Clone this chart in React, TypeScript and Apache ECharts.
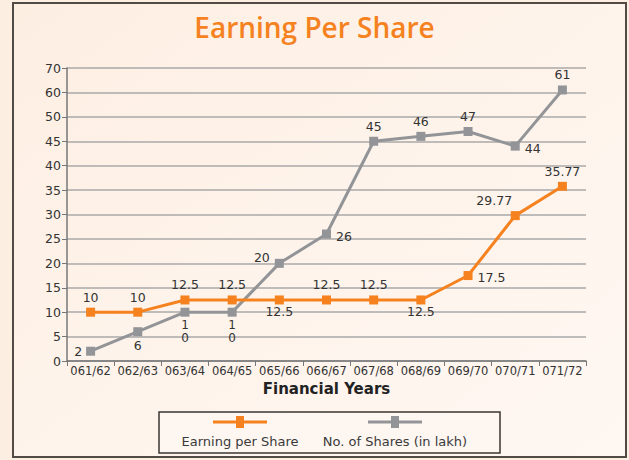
import React, { useEffect, useRef } from "react";
import * as echarts from "echarts";

const categories = ["061/62", "062/63", "063/64", "064/65", "065/66", "066/67", "067/68", "068/69", "069/70", "070/71", "071/72"];
const epsValues = [10, 10, 12.5, 12.5, 12.5, 12.5, 12.5, 12.5, 17.5, 29.77, 35.77];
const shareValues = [2, 6, 10, 10, 20, 26, 45, 46, 47, 44, 61];
const epsLabelPos = ["top", "top", "top", "top", "bottom", "top", "top", "bottom", "right", "topleft", "top"];
const shareLabelPos = ["left", "bottom", "bottom", "bottom", "upleft", "right", "top", "top", "top", "right", "top"];
const seriesNames = ["Earning per Share", "No. of Shares (in lakh)"];
const seriesColors = ["#F5821F", "#929497"];

// The original axis is compressed above 50 (50, 60, 70 on equally spaced lines)
const toAxis = (v: number) => (v <= 50 ? v : 50 + (v - 50) / 2);
const fromAxis = (v: number) => (v <= 50 ? v : 50 + (v - 50) * 2);

const labelFont = { fontFamily: "DejaVu Sans", fontSize: 12.5, color: "#333" };

function itemLabel(pos: string, raw: number, isShare: boolean) {
  const base: any = { show: true, ...labelFont, formatter: () => String(raw) };
  if (pos === "topleft") return { ...base, position: "top", offset: [-21, 1] };
  if (pos === "upleft") return { ...base, position: "left", offset: [0, -6] };
  if (pos === "right") return { ...base, position: "right", offset: [0, 2] };
  if (pos === "bottom") {
    if (isShare && raw === 10)
      return { ...base, fontSize: 12, position: "bottom", distance: 2, lineHeight: 13, formatter: () => "1\n0" };
    return { ...base, position: "bottom", distance: isShare ? 3 : 1 };
  }
  return { ...base, position: pos, distance: 4 };
}

export default function App() {
  const ref = useRef<HTMLDivElement>(null);
  useEffect(() => {
    document.body.style.margin = "0";
    const chart = echarts.init(ref.current!, null, { renderer: "svg" });
    const legendCenters = [240, 395];
    const legendGraphics: any[] = [];
    seriesNames.forEach((n, i) => {
      const cx = legendCenters[i];
      legendGraphics.push(
        { type: "line", shape: { x1: cx - 27, y1: 422, x2: cx + 27, y2: 422 }, style: { stroke: seriesColors[i], lineWidth: 3 }, z: 10 },
        { type: "rect", shape: { x: cx - 4, y: 416, width: 8, height: 12 }, style: { fill: seriesColors[i] }, z: 10 },
        { type: "text", x: cx, y: 441, style: { text: n, fill: "#3a3a3a", font: "13px 'DejaVu Sans'", align: "center", verticalAlign: "middle" }, z: 10 }
      );
    });
    chart.setOption({
      animation: false,
      backgroundColor: "#FDEEE2",
      title: {
        text: "Earning Per Share",
        left: "center",
        top: 8,
        textStyle: { color: "#F5821F", fontFamily: "Open Sans", fontSize: 28, fontWeight: 600 },
      },
      graphic: [
        {
          type: "rect",
          z: -100,
          shape: { x: 13, y: 3, width: 613, height: 454 },
          style: {
            fill: new echarts.graphic.LinearGradient(0, 0, 1, 1, [
              { offset: 0, color: "#FDEEE2" },
              { offset: 0.45, color: "#FEF3EA" },
              { offset: 1, color: "#FEF7F2" },
            ]),
            stroke: "#524A44",
            lineWidth: 2,
          },
        },
        {
          type: "rect",
          z: 5,
          shape: { x: 159, y: 412, width: 341, height: 41 },
          style: { fill: "#FEF6F0", stroke: "#3b3633", lineWidth: 1.5 },
        },
        ...legendGraphics,
      ],
      grid: { left: 67, right: 43, top: 68, bottom: 99 },
      xAxis: {
        type: "category",
        data: categories,
        boundaryGap: true,
        name: "Financial Years",
        nameLocation: "middle",
        nameGap: 13,
        nameTextStyle: { fontFamily: "DejaVu Sans", fontSize: 15, fontWeight: "bold", color: "#222", verticalAlign: "top" },
        axisLine: { lineStyle: { color: "#777", width: 1.5 } },
        axisTick: { show: true, length: 5, lineStyle: { color: "#777" } },
        axisLabel: { fontFamily: "DejaVu Sans", fontSize: 11.5, color: "#333", margin: 4, interval: 0 },
      },
      yAxis: {
        type: "value",
        min: 0,
        max: 60,
        interval: 5,
        axisLine: { show: true, lineStyle: { color: "#777", width: 1.5 } },
        axisTick: { show: true, length: 5, lineStyle: { color: "#777" } },
        axisLabel: { fontFamily: "DejaVu Sans", fontSize: 12.5, color: "#333", margin: 6, formatter: (v: number) => String(fromAxis(v)) },
        splitLine: { show: true, lineStyle: { color: "#A8A8A8", width: 1.5 } },
      },
      series: [
        {
          name: seriesNames[0],
          type: "line",
          symbol: "rect",
          symbolSize: 9,
          color: seriesColors[0],
          lineStyle: { width: 3, color: seriesColors[0] },
          z: 4,
          data: epsValues.map((v, i) => ({ value: toAxis(v), label: itemLabel(epsLabelPos[i], v, false) })),
        },
        {
          name: seriesNames[1],
          type: "line",
          symbol: "rect",
          symbolSize: 9,
          color: seriesColors[1],
          lineStyle: { width: 3, color: seriesColors[1] },
          z: 3,
          data: shareValues.map((v, i) => ({ value: toAxis(v), label: itemLabel(shareLabelPos[i], v, true) })),
        },
      ],
    });
    return () => chart.dispose();
  }, []);
  return <div ref={ref} style={{ position: "absolute", left: 0, top: 0, width: 629, height: 460 }} />;
}
